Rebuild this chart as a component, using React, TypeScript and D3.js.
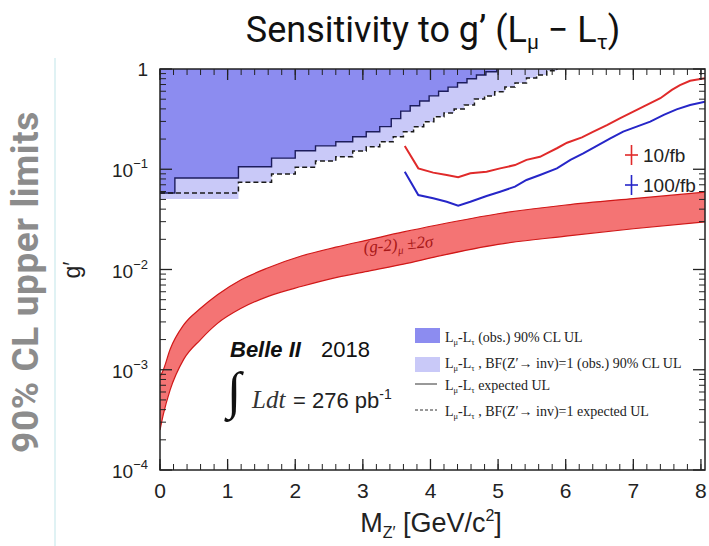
import React from 'react';
import * as d3 from 'd3';

// frame of the plot inside the 709x546 picture
const W = 709, H = 546;
const L = 160, R = 705, T = 69, B = 470;

const xTicks = [0, 1, 2, 3, 4, 5, 6, 7, 8];
const yTickExps = [0, -1, -2, -3, -4];

// (g-2)_mu +-2 sigma band
const bandMass = [0, 0.05, 0.15, 0.35, 0.6, 0.85, 1.2, 1.6, 2.1, 2.6, 3.1, 3.6, 4.1, 5, 6, 7, 8.06];
const bandUpper = [8.5e-4, 1.0e-3, 1.6e-3, 2.8e-3, 4.1e-3, 5.6e-3, 7.9e-3, 0.0104, 0.0137, 0.0167, 0.0199, 0.0237, 0.0278, 0.036, 0.044, 0.051, 0.059];
const bandLower = [2.5e-4, 3.6e-4, 6.3e-4, 1.27e-3, 2.0e-3, 2.9e-3, 4.1e-3, 5.4e-3, 6.8e-3, 8.3e-3, 9.7e-3, 0.0113, 0.0135, 0.0178, 0.0215, 0.0255, 0.0298];

// L_mu - L_tau observed 90% CL UL (steps), last edge = where it leaves the frame
const obsEdges = [0, 0.22, 1.16, 1.65, 2.0, 2.3, 2.6, 2.85, 3.05, 3.25, 3.42, 3.56, 3.7, 3.84, 3.98, 4.12, 4.26, 4.4, 4.54, 4.68, 4.82, 4.98];
const obsLevels = [0.058, 0.0818, 0.106, 0.129, 0.153, 0.171, 0.188, 0.211, 0.237, 0.266, 0.32, 0.38, 0.43, 0.48, 0.54, 0.6, 0.66, 0.73, 0.8, 0.87, 0.94];

// BF(Z'->inv)=1 observed and expected
const bfEdges = [0, 1.16, 1.65, 2.0, 2.3, 2.6, 2.85, 3.05, 3.25, 3.45, 3.6, 3.75, 3.9, 4.05, 4.2, 4.35, 4.5, 4.65, 4.8, 4.95, 5.1, 5.25, 5.42, 5.57, 5.72, 5.87];
const bfObsLevels = [0.0505, 0.074, 0.0897, 0.105, 0.121, 0.133, 0.152, 0.168, 0.188, 0.211, 0.237, 0.266, 0.298, 0.334, 0.364, 0.399, 0.437, 0.502, 0.538, 0.594, 0.661, 0.725, 0.813, 0.871, 0.96];
const bfExpLevels = [0.058, 0.074, 0.0897, 0.105, 0.121, 0.133, 0.152, 0.168, 0.188, 0.211, 0.237, 0.266, 0.298, 0.334, 0.364, 0.399, 0.437, 0.502, 0.538, 0.594, 0.661, 0.725, 0.813, 0.871, 0.96];

// projections
const p10Mass = [3.62, 3.82, 4.04, 4.24, 4.41, 4.59, 4.83, 5.03, 5.25, 5.42, 5.62, 5.72, 5.87, 6.02, 6.24, 6.41, 6.61, 6.8, 7.0, 7.2, 7.4, 7.57, 7.69, 7.84, 8.06];
const p10 = [0.171, 0.102, 0.0925, 0.0877, 0.0832, 0.0912, 0.0946, 0.102, 0.11, 0.124, 0.133, 0.144, 0.162, 0.184, 0.208, 0.237, 0.276, 0.322, 0.375, 0.438, 0.511, 0.618, 0.692, 0.764, 0.807];
const p100Mass = [3.62, 3.82, 4.04, 4.24, 4.41, 4.59, 4.83, 5.03, 5.25, 5.42, 5.62, 5.87, 6.07, 6.26, 6.46, 6.66, 6.85, 7.05, 7.25, 7.45, 7.64, 7.84, 8.06];
const p100 = [0.0946, 0.0553, 0.0513, 0.0474, 0.0433, 0.0474, 0.0541, 0.0597, 0.067, 0.0782, 0.0877, 0.102, 0.124, 0.144, 0.171, 0.203, 0.237, 0.266, 0.299, 0.348, 0.396, 0.438, 0.472];

const legendRows = ['(obs.) 90% CL UL', ', BF(Z\u2032\u2192 inv)=1 (obs.) 90% CL UL', 'expected UL', ', BF(Z\u2032\u2192 inv)=1 expected UL'];

const x = d3.scaleLinear().domain([0, 8.06]).range([L, R]);
const y = d3.scaleLog().domain([1e-4, 1]).range([B, T]);

function stepPts(edges: number[], levels: number[]) {
  const pts: [number, number][] = levels.map((v, i) => [edges[i], v]);
  pts.push([edges[edges.length - 1], 1]);
  return pts;
}

const stepArea = d3.area<[number, number]>()
  .x(d => x(d[0])).y0(y(1)).y1(d => y(d[1])).curve(d3.curveStepAfter);
const stepLine = d3.line<[number, number]>()
  .x(d => x(d[0])).y(d => y(d[1])).curve(d3.curveStepAfter);

const bandArea = d3.area<number>()
  .x((d, i) => x(bandMass[i])).y0((d, i) => y(bandLower[i])).y1(d => y(d))
  .curve(d3.curveMonotoneX);
const bandEdge = (vals: number[]) => d3.line<number>()
  .x((d, i) => x(bandMass[i])).y(d => y(d)).curve(d3.curveMonotoneX)(vals) as string;

const curve = (ms: number[], vs: number[]) => d3.line<number>()
  .x((d, i) => x(ms[i])).y(d => y(d))(vs) as string;

const minorX = d3.range(0, 8.06, 0.2);
const minorY: number[] = [];
for (let k = -4; k < 0; k++) for (let j = 2; j <= 9; j++) minorY.push(j * Math.pow(10, k));

const LmLt = (fs: number) => (
  <>
    <tspan>L</tspan><tspan fontSize={fs * 0.6} dy={3}>{'\u03bc'}</tspan>
    <tspan dy={-3}>-L</tspan><tspan fontSize={fs * 0.6} dy={3}>{'\u03c4'}</tspan>
    <tspan dy={-3}> </tspan>
  </>
);

export default function App() {
  const sans = 'Liberation Sans, Arial, sans-serif';
  const serif = 'Liberation Serif, Times New Roman, serif';
  return (
    <svg width={W} height={H} style={{ position: 'absolute', left: 0, top: 0, background: '#fff' }}>
      <defs>
        <clipPath id="plot"><rect x={L} y={T} width={R - L} height={B - T} /></clipPath>
      </defs>

      <line x1={55} x2={55} y1={58} y2={H} stroke="#d6eef0" strokeWidth={1.5} />
      <text transform="translate(38,282) rotate(-90)" textAnchor="middle" fontFamily="Roboto, sans-serif"
        fontWeight={700} fontSize={37} fill="#8c8c8c" letterSpacing={0.6}>90% CL upper limits</text>

      <text x={433} y={42} textAnchor="middle" fontFamily="Roboto, sans-serif" fontSize={36} fill="#111">
        Sensitivity to g{'\u2019'} (L<tspan fontSize={21} dy={7}>{'\u03bc'}</tspan>
        <tspan dy={-7}> {'\u2212'} L</tspan><tspan fontSize={21} dy={7}>{'\u03c4'}</tspan><tspan dy={-7}>)</tspan>
      </text>

      <g clipPath="url(#plot)">
        <path d={stepArea(stepPts(bfEdges, bfObsLevels)) as string} fill="#c9c9f8" />
        <path d={stepArea(stepPts(obsEdges, obsLevels)) as string} fill="#8c8cf0" />
        <path d={stepLine(stepPts(obsEdges, obsLevels)) as string} fill="none" stroke="#1c1c5c" strokeWidth={1.4} />
        <path d={stepLine(stepPts(bfEdges, bfExpLevels)) as string} fill="none" stroke="#1a1a1a" strokeWidth={1.5} strokeDasharray="5,3" />

        <path d={bandArea(bandUpper) as string} fill="#f47474" />
        <path d={bandEdge(bandUpper)} fill="none" stroke="#d01818" strokeWidth={1.2} />
        <path d={bandEdge(bandLower)} fill="none" stroke="#d01818" strokeWidth={1.2} />

        <path d={curve(p10Mass, p10)} fill="none" stroke="#e02a2a" strokeWidth={2} />
        <path d={curve(p100Mass, p100)} fill="none" stroke="#2626c8" strokeWidth={2} />
      </g>

      <text transform="translate(364,253) rotate(-5)" fontFamily={serif} fontStyle="italic" fontSize={17} fill="#a81818">
        (g-2)<tspan fontSize={11} dy={4}>{'\u03bc'}</tspan><tspan dy={-4}> {'\u00b1'}2{'\u03c3'}</tspan>
      </text>

      {/* frame and ticks */}
      <rect x={L} y={T} width={R - L} height={B - T} fill="none" stroke="#222" strokeWidth={1.5} />
      {xTicks.map(t => (
        <g key={'xt' + t}>
          <line x1={x(t)} x2={x(t)} y1={B} y2={B - 11} stroke="#222" strokeWidth={1.3} />
          <line x1={x(t)} x2={x(t)} y1={T} y2={T + 11} stroke="#222" strokeWidth={1.3} />
          <text x={x(t)} y={498} textAnchor="middle" fontFamily={sans} fontSize={21} fill="#222">{t}</text>
        </g>
      ))}
      {minorX.map((t, i) => (
        <g key={'xm' + i}>
          <line x1={x(t)} x2={x(t)} y1={B} y2={B - 6} stroke="#222" />
          <line x1={x(t)} x2={x(t)} y1={T} y2={T + 6} stroke="#222" />
        </g>
      ))}
      {yTickExps.map(e => (
        <g key={'yt' + e}>
          <line x1={L} x2={L + 12} y1={y(Math.pow(10, e))} y2={y(Math.pow(10, e))} stroke="#222" strokeWidth={1.3} />
          <line x1={R} x2={R - 12} y1={y(Math.pow(10, e))} y2={y(Math.pow(10, e))} stroke="#222" strokeWidth={1.3} />
          {e === 0 ? (
            <text x={148} y={y(1) + 7} textAnchor="end" fontFamily={sans} fontSize={19} fill="#222">1</text>
          ) : (
            <text x={148} y={y(Math.pow(10, e)) + 8} textAnchor="end" fontFamily={sans} fontSize={19} fill="#222">
              10<tspan fontSize={13} dy={-9}>{'\u2212' + -e}</tspan>
            </text>
          )}
        </g>
      ))}
      {minorY.map((t, i) => (
        <g key={'ym' + i}>
          <line x1={L} x2={L + 6} y1={y(t)} y2={y(t)} stroke="#222" />
          <line x1={R} x2={R - 6} y1={y(t)} y2={y(t)} stroke="#222" />
        </g>
      ))}

      <text transform="translate(80,270) rotate(-90)" textAnchor="middle" fontFamily={sans} fontSize={23} fill="#222">g{'\u2032'}</text>
      <text x={431} y={532} textAnchor="middle" fontFamily={sans} fontSize={27} fill="#222">
        M<tspan fontSize={16} dy={6}>Z{'\u2032'}</tspan><tspan dy={-6}> [GeV/c</tspan><tspan fontSize={16} dy={-11}>2</tspan><tspan dy={11}>]</tspan>
      </text>

      {/* projection legend */}
      <line x1={625} x2={638} y1={155} y2={155} stroke="#e02a2a" strokeWidth={1.6} />
      <line x1={631.5} x2={631.5} y1={145} y2={165} stroke="#e02a2a" strokeWidth={1.6} />
      <text x={643} y={162} fontFamily={sans} fontSize={19} fill="#222">10/fb</text>
      <line x1={625} x2={638} y1={185} y2={185} stroke="#2626c8" strokeWidth={1.6} />
      <line x1={631.5} x2={631.5} y1={175} y2={195} stroke="#2626c8" strokeWidth={1.6} />
      <text x={643} y={192} fontFamily={sans} fontSize={19} fill="#222">100/fb</text>

      {/* limit legend */}
      <rect x={415} y={328} width={25} height={15} fill="#8c8cf0" />
      <rect x={415} y={357} width={25} height={15} fill="#c9c9f8" />
      <line x1={415} x2={437} y1={384} y2={384} stroke="#333" strokeWidth={1} />
      <line x1={415} x2={437} y1={410} y2={410} stroke="#333" strokeWidth={1} strokeDasharray="3,2" />
      {legendRows.map((r, i) => (
        <text key={r} x={445} y={[342, 368, 390, 416][i]} fontFamily={serif} fontSize={14} fill="#222">
          {LmLt(14)}{r}
        </text>
      ))}

      {/* experiment label */}
      <text x={230} y={357} fontFamily={sans} fontSize={22} fill="#111">
        <tspan fontWeight={700} fontStyle="italic">Belle II</tspan><tspan dx={20}>2018</tspan>
      </text>
      <text x={227} y={408} fontFamily={serif} fontSize={52} fill="#111">{'\u222b'}</text>
      <text x={252} y={408} fontFamily={serif} fontStyle="italic" fontSize={25} fill="#333">Ldt</text>
      <text x={293} y={408} fontFamily={sans} fontSize={22} fill="#222">
        = 276 pb<tspan fontSize={14} dy={-9}>-1</tspan>
      </text>
    </svg>
  );
}
